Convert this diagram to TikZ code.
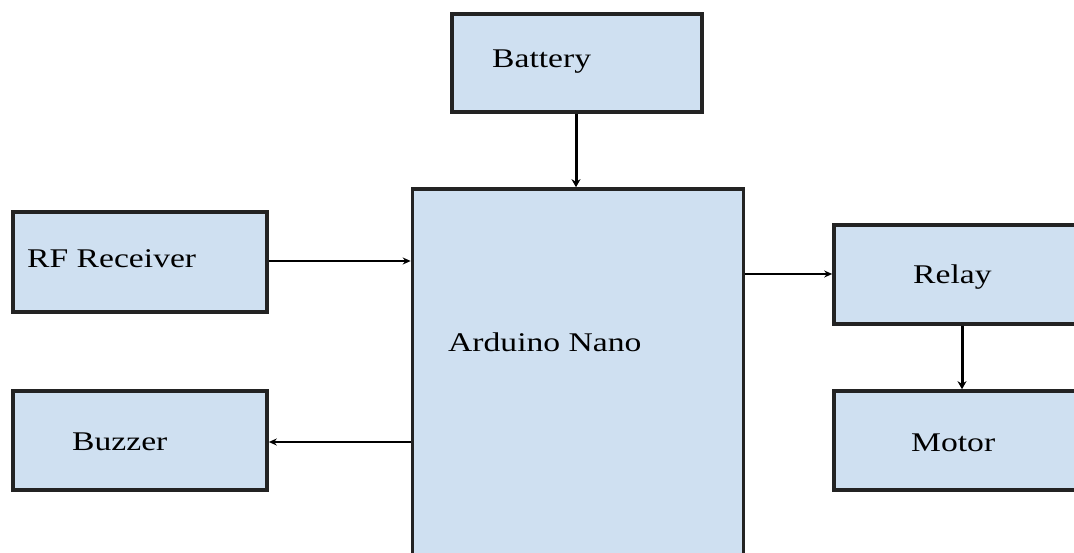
\documentclass[tikz,border=0pt]{standalone}
\usepackage{fontspec}
\setmainfont{Liberation Serif}
\usetikzlibrary{arrows.meta}
\definecolor{boxfill}{RGB}{207,224,241}
\definecolor{boxline}{RGB}{35,35,35}
\tikzset{
  blk/.style={draw=boxline, fill=boxfill, line width=3.6pt, rectangle, inner sep=0pt},
  lbl/.style={anchor=base west, inner sep=0pt, font=\fontsize{27}{27}\selectfont},
  thick arrow/.style={line width=3pt, -{Stealth[length=8pt,width=9pt]}},
  thin arrow/.style={line width=1.6pt, -{Stealth[length=8pt,width=7pt]}},
}
\newcommand{\wlab}[1]{\scalebox{1.245}[1]{#1}}
\begin{document}
\begin{tikzpicture}[x=1pt,y=-1pt]
\useasboundingbox (0,0) rectangle (1074,553);
\clip (0,0) rectangle (1074,553);
% boxes
\node[blk, minimum width=250pt, minimum height=98pt] (battery) at (577,63) {};
\node[blk, minimum width=331pt, minimum height=400pt] (nano) at (578,389) {};
\node[blk, minimum width=254pt, minimum height=100pt] (rf) at (140,262) {};
\node[blk, minimum width=254pt, minimum height=99pt] (buzzer) at (140,440.5) {};
\node[blk, minimum width=260pt, minimum height=99pt] (relay) at (964,274.5) {};
\node[blk, minimum width=260pt, minimum height=99pt] (motor) at (964,440.5) {};
% labels
\node[lbl] (tbat) at (492,68) {\wlab{Battery}};
\node[lbl] (tnano) at (448,352) {\wlab{Arduino Nano}};
\node[lbl] (trf) at (27,268) {\wlab{RF Receiver}};
\node[lbl] (tbuz) at (72,450) {\wlab{Buzzer}};
\node[lbl] (trel) at (913,284) {\wlab{Relay}};
\node[lbl] (tmot) at (911,451) {\wlab{Motor}};
% connectors
\draw[thick arrow] (battery.south -| 576,0) -- (nano.north -| 576,0);
\draw[thin arrow] (rf.east |- 0,261) -- (nano.west |- 0,261);
\draw[thin arrow] (nano.west |- 0,442) -- (buzzer.east |- 0,442);
\draw[thin arrow] (nano.east |- 0,274) -- (relay.west |- 0,274);
\draw[thick arrow] (relay.south -| 962,0) -- (motor.north -| 962,0);
\end{tikzpicture}
\end{document}
